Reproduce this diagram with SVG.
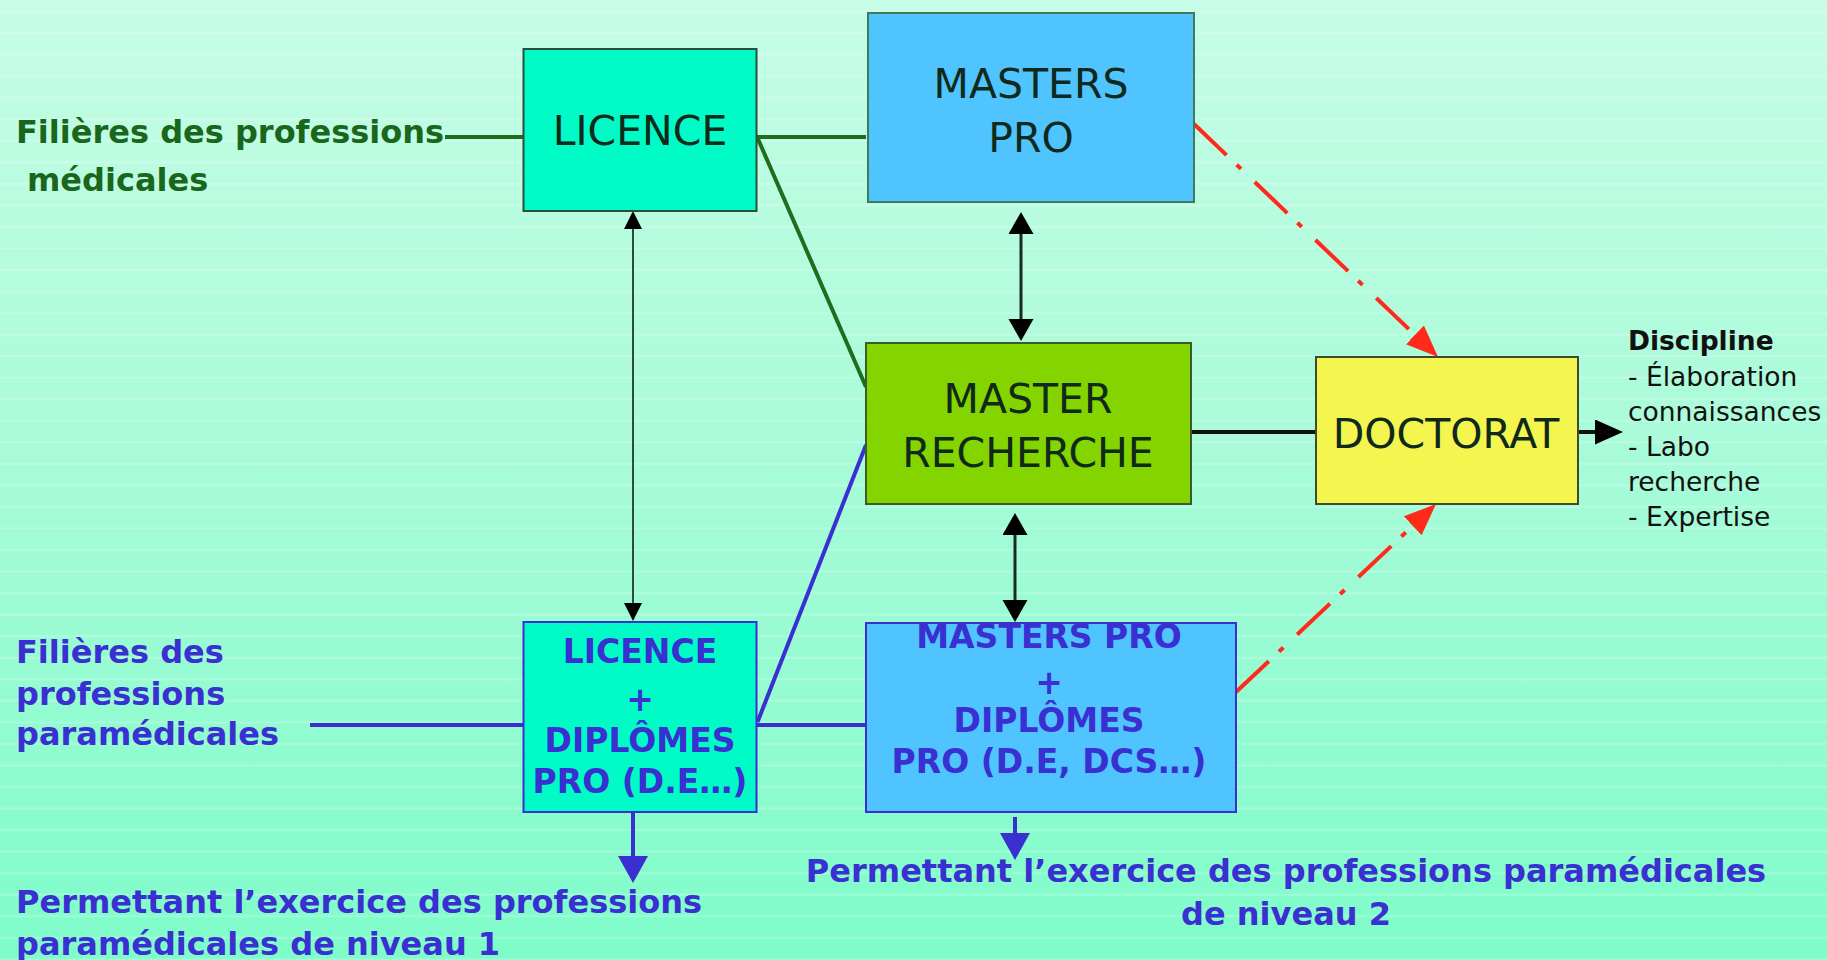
<svg xmlns="http://www.w3.org/2000/svg" width="1827" height="960" viewBox="0 0 1827 960">
<style>
  .box{stroke-width:2}
  .lbl{font-family:"DejaVu Sans","Liberation Sans",sans-serif;font-size:41px;fill:#0f2a1a;text-anchor:middle}
  .blbl{font-family:"DejaVu Sans","Liberation Sans",sans-serif;font-size:33px;font-weight:bold;fill:#3a2fd0;text-anchor:middle}
  .green{font-family:"DejaVu Sans","Liberation Sans",sans-serif;font-size:32px;font-weight:bold;fill:#1a661a}
  .blue{font-family:"DejaVu Sans","Liberation Sans",sans-serif;font-size:32px;font-weight:bold;fill:#3a2fd0}
  .disc{font-family:"DejaVu Sans","Liberation Sans",sans-serif;font-size:26.5px;fill:#111}
  .red{stroke:#ff2a1a;stroke-width:4;fill:none;stroke-dasharray:45 14 6 19}
</style>
<defs>
  <linearGradient id="bg" x1="0" y1="0" x2="0" y2="1">
    <stop offset="0" stop-color="#c6fde6"/>
    <stop offset="0.5" stop-color="#a6fbd8"/>
    <stop offset="1" stop-color="#7ffcc9"/>
  </linearGradient>
  <pattern id="stripes" patternUnits="userSpaceOnUse" x="0" y="0" width="1827" height="21.54">
    <rect x="0" y="10.5" width="1827" height="2" fill="#ffffff" fill-opacity="0.22"/>
  </pattern>
  <marker id="aThin" markerUnits="userSpaceOnUse" markerWidth="20" markerHeight="20" refX="0" refY="9" orient="auto-start-reverse">
    <path d="M0,0 L18,9 L0,18 Z" fill="#000"/>
  </marker>
  <marker id="aBlk" markerUnits="userSpaceOnUse" markerWidth="24" markerHeight="26" refX="0" refY="12.5" orient="auto-start-reverse">
    <path d="M0,0 L22,12.5 L0,25 Z" fill="#000"/>
  </marker>
  <marker id="aBig" markerUnits="userSpaceOnUse" markerWidth="30" markerHeight="26" refX="0" refY="12.5" orient="auto">
    <path d="M0,0 L28,12.5 L0,25 Z" fill="#000"/>
  </marker>
  <marker id="aRed" markerUnits="userSpaceOnUse" markerWidth="34" markerHeight="28" refX="0" refY="13" orient="auto">
    <path d="M0,0 L32,13 L0,26 Z" fill="#ff2a1a"/>
  </marker>
  <marker id="aBlue" markerUnits="userSpaceOnUse" markerWidth="30" markerHeight="32" refX="0" refY="15" orient="auto">
    <path d="M0,0 L27,15 L0,30 Z" fill="#3a2fd0"/>
  </marker>
</defs>
<rect x="0" y="0" width="1827" height="960" fill="url(#bg)"/>
<rect x="0" y="0" width="1827" height="960" fill="url(#stripes)"/>

<g id="connectors">
  <line x1="445" y1="137" x2="523.5" y2="137" stroke="#1e6e1e" stroke-width="4"/>
  <line x1="756.5" y1="137" x2="866" y2="137" stroke="#1e6e1e" stroke-width="4"/>
  <line x1="758" y1="139" x2="866" y2="387" stroke="#1e6e1e" stroke-width="4"/>
  <line x1="633" y1="229" x2="633" y2="603" stroke="#2c4c3c" stroke-width="2" marker-start="url(#aThin)" marker-end="url(#aThin)"/>
  <line x1="1021" y1="234" x2="1021" y2="319" stroke="#1a2a22" stroke-width="3" marker-start="url(#aBlk)" marker-end="url(#aBlk)"/>
  <line x1="1015" y1="535" x2="1015" y2="600" stroke="#1a2a22" stroke-width="3" marker-start="url(#aBlk)" marker-end="url(#aBlk)"/>
  <line x1="1191" y1="432" x2="1316" y2="432" stroke="#111" stroke-width="4"/>
  <line x1="1578" y1="432" x2="1595" y2="432" stroke="#111" stroke-width="4" marker-end="url(#aBig)"/>
  <line class="red" x1="1194" y1="124" x2="1414.9" y2="334.9" marker-end="url(#aRed)"/>
  <line class="red" x1="1236" y1="692" x2="1412.7" y2="525.9" marker-end="url(#aRed)"/>
  <line x1="310" y1="725" x2="523.5" y2="725" stroke="#3a2fd0" stroke-width="4"/>
  <line x1="756.5" y1="725" x2="866" y2="725" stroke="#3a2fd0" stroke-width="4"/>
  <line x1="757.5" y1="722" x2="866" y2="445" stroke="#3a2fd0" stroke-width="4"/>
  <line x1="633" y1="812" x2="633" y2="856" stroke="#3a2fd0" stroke-width="4" marker-end="url(#aBlue)"/>
  <line x1="1015" y1="817" x2="1015" y2="833" stroke="#3a2fd0" stroke-width="4" marker-end="url(#aBlue)"/>
</g>

<g id="licence">
  <rect class="box" x="523.5" y="49" width="233" height="162" fill="#00fbc6" stroke="#2c4c3c"/>
  <text class="lbl" x="640" y="145">LICENCE</text>
</g>
<g id="masters-pro">
  <rect class="box" x="868" y="13" width="326" height="189" fill="#50c4ff" stroke="#3c7c5c"/>
  <text class="lbl" x="1031" y="98">MASTERS</text>
  <text class="lbl" x="1031" y="152">PRO</text>
</g>
<g id="master-recherche">
  <rect class="box" x="866" y="343" width="325" height="161" fill="#84d400" stroke="#3c5c2c"/>
  <text class="lbl" x="1028" y="413">MASTER</text>
  <text class="lbl" x="1028" y="467">RECHERCHE</text>
</g>
<g id="doctorat">
  <rect class="box" x="1316" y="357" width="262" height="147" fill="#f5f550" stroke="#3c4c2c"/>
  <text class="lbl" x="1446" y="448">DOCTORAT</text>
</g>
<g id="licence-diplomes">
  <rect class="box" x="523.5" y="622" width="233" height="190" fill="#00fbc6" stroke="#3a30d0"/>
  <text class="blbl" x="640" y="663">LICENCE</text>
  <text class="blbl" x="640" y="711">+</text>
  <text class="blbl" x="640" y="752">DIPLÔMES</text>
  <text class="blbl" x="640" y="793">PRO (D.E…)</text>
</g>
<g id="masters-pro-diplomes">
  <rect class="box" x="866" y="623" width="370" height="189" fill="#50c4ff" stroke="#3a30d0"/>
  <text class="blbl" x="1049" y="648">MASTERS PRO</text>
  <text class="blbl" x="1049" y="694">+</text>
  <text class="blbl" x="1049" y="732">DIPLÔMES</text>
  <text class="blbl" x="1049" y="773">PRO (D.E, DCS…)</text>
</g>
<g id="label-medicales">
  <text class="green" x="16" y="143">Filières des professions</text>
  <text class="green" x="27" y="191">médicales</text>
</g>
<g id="label-paramedicales">
  <text class="blue" x="16" y="663">Filières des</text>
  <text class="blue" x="16" y="705">professions</text>
  <text class="blue" x="16" y="745">paramédicales</text>
</g>
<g id="label-niveau1">
  <text class="blue" x="16" y="913">Permettant l’exercice des professions</text>
  <text class="blue" x="16" y="955">paramédicales de niveau 1</text>
</g>
<g id="label-niveau2">
  <text class="blue" x="1286" y="882" text-anchor="middle">Permettant l’exercice des professions paramédicales</text>
  <text class="blue" x="1286" y="925" text-anchor="middle">de niveau 2</text>
</g>
<g id="label-discipline">
  <text class="disc" x="1628" y="350" font-weight="bold" font-size="27.5px">Discipline</text>
  <text class="disc" x="1628" y="386">- Élaboration</text>
  <text class="disc" x="1628" y="421">connaissances</text>
  <text class="disc" x="1628" y="456">- Labo</text>
  <text class="disc" x="1628" y="491">recherche</text>
  <text class="disc" x="1628" y="526">- Expertise</text>
</g>
</svg>
